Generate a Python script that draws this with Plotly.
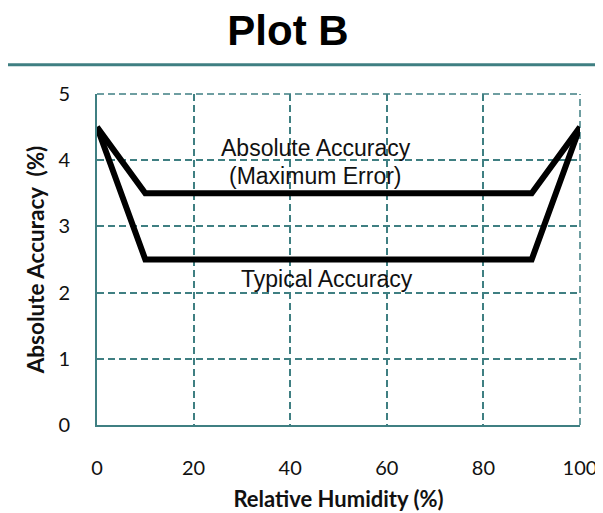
import plotly.graph_objects as go

humidity = [0, 10, 90, 100]
max_error = [4.5, 3.5, 3.5, 4.5]
typical = [4.5, 2.5, 2.5, 4.5]
x_ticks = [0, 20, 40, 60, 80, 100]
y_ticks = [0, 1, 2, 3, 4, 5]

teal = "#3f7f82"
dash = "7px,4px"
fig = go.Figure()
fig.add_trace(go.Scatter(x=humidity, y=max_error, mode="lines",
                         line=dict(color="black", width=6), showlegend=False))
fig.add_trace(go.Scatter(x=humidity, y=typical, mode="lines",
                         line=dict(color="black", width=6), showlegend=False))

ann_font = dict(family="Liberation Sans, Arial, sans-serif", size=23, color="#111")
fig.add_annotation(x=45.3, y=4.18, text="Absolute Accuracy", showarrow=False, font=ann_font)
fig.add_annotation(x=45.3, y=3.76, text="(Maximum Error)", showarrow=False, font=ann_font)
fig.add_annotation(x=47.7, y=2.2, text="Typical Accuracy", showarrow=False, font=ann_font)

# rule under the title
fig.add_shape(type="line", xref="paper", yref="paper", x0=-0.185, x1=1.05,
              y0=1.088, y1=1.088, line=dict(color=teal, width=3))
# dashed top and right borders
fig.add_shape(type="line", xref="paper", yref="paper", x0=0, x1=1, y0=1, y1=1,
              line=dict(color=teal, width=1.5, dash=dash), layer="below")
fig.add_shape(type="line", xref="paper", yref="paper", x0=1, x1=1, y0=0, y1=1,
              line=dict(color=teal, width=1.5, dash=dash), layer="below")

tick_font = dict(family="Lato, sans-serif", size=20, color="#111")
fig.update_layout(
    width=595, height=505,
    margin=dict(l=89, r=23, t=86, b=88),
    paper_bgcolor="white", plot_bgcolor="white",
    title=dict(text="<b>Plot B</b>", x=0.4706, xanchor="center", y=0.955, yanchor="middle",
               font=dict(family="Liberation Sans, Arial, sans-serif", size=42, color="black")),
    xaxis=dict(range=[0, 100], tickvals=x_ticks, showgrid=True, gridcolor=teal, griddash=dash,
               gridwidth=1.5, showline=True, linecolor=teal, linewidth=2, zeroline=False,
               automargin=False, ticklabelstandoff=24, tickfont=tick_font,
               title=dict(text="<b>Relative Humidity (%)</b>", standoff=14,
                          font=dict(family="Lato, sans-serif", size=22, color="#111"))),
    yaxis=dict(range=[0, 5], tickvals=y_ticks, showgrid=True, gridcolor=teal, griddash=dash,
               gridwidth=1.5, showline=True, linecolor=teal, linewidth=2, zeroline=False,
               automargin=False, ticklabelstandoff=21, tickfont=tick_font,
               title=dict(text="<b>Absolute Accuracy  (%)</b>", standoff=8,
                          font=dict(family="Lato, sans-serif", size=22.5, color="#111"))),
)
fig.write_html("out.html")
